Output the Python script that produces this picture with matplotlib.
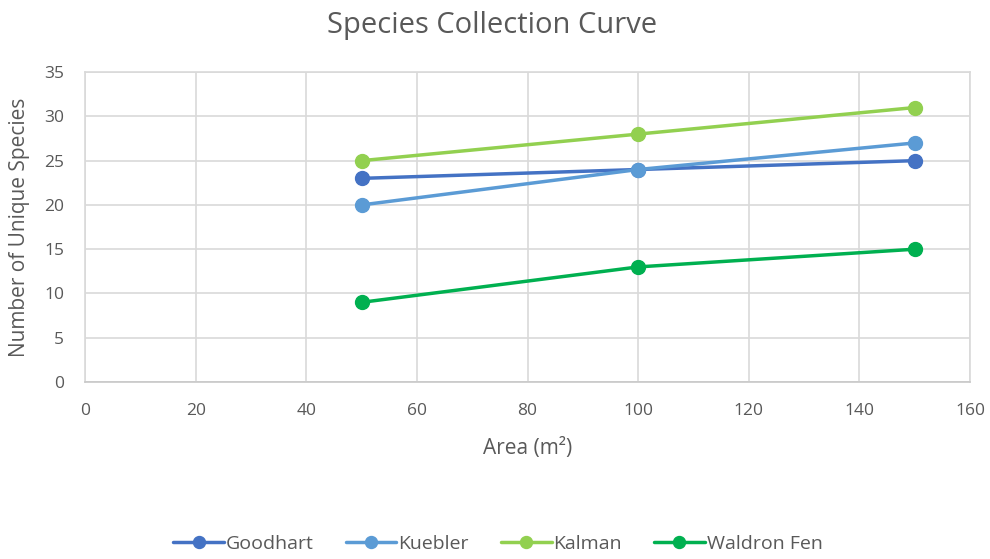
import matplotlib
matplotlib.use("Agg")
import matplotlib.pyplot as plt

area = [50, 100, 150]
goodhart = [23, 24, 25]
kuebler = [20, 24, 27]
kalman = [25, 28, 31]
waldron = [9, 13, 15]
series_names = ["Goodhart", "Kuebler", "Kalman", "Waldron Fen"]
colors = ["#4472C4", "#5B9BD5", "#92D050", "#00B050"]

plt.rcParams['font.family'] = ['Open Sans', 'DejaVu Sans']
txt = "#595959"

fig = plt.figure(figsize=(9.9, 5.59), dpi=100)
ax = fig.add_axes([0.0859, 0.3166, 0.894, 0.5544])

for name, ys, c in zip(series_names, [goodhart, kuebler, kalman, waldron], colors):
    ax.plot(area, ys, color=c, lw=2.5, marker='o', markersize=10, label=name,
            solid_capstyle='round')

ax.set_xlim(0, 160)
ax.set_ylim(0, 35)
ax.set_xticks(range(0, 161, 20))
ax.set_yticks(range(0, 36, 5))
ax.grid(True, color="#D9D9D9", lw=1.2)
ax.set_axisbelow(True)
for s in ax.spines.values():
    s.set_color("#D9D9D9")
    s.set_linewidth(1.2)
ax.spines['bottom'].set_color("#C8C8C8")
ax.tick_params(length=0, labelsize=12.5, colors=txt)
ax.tick_params(axis='x', pad=15)
ax.tick_params(axis='y', pad=15)

ax.set_xlabel("Area (m²)", fontsize=15, color=txt)
ax.xaxis.set_label_coords(0.5, -0.18)
ax.set_ylabel("Number of Unique Species", fontsize=15, color=txt)
ax.yaxis.set_label_coords(-0.062, 0.5)
fig.text(0.497, 0.955, "Species Collection Curve", ha='center', va='center',
         fontsize=21, color=txt)

leg = fig.legend(loc='center', bbox_to_anchor=(0.503, 0.027), ncol=4, frameon=False,
                 fontsize=14, handlelength=2.6, columnspacing=1.65, handletextpad=0.1,
                 markerscale=0.86)
for t in leg.get_texts():
    t.set_color(txt)

fig.savefig("out.png", dpi=100)
